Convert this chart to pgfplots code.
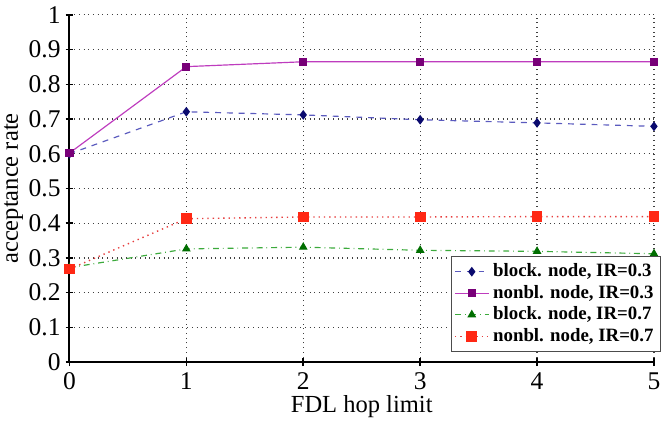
\documentclass[border=0pt]{standalone}
\usepackage{pgfplots}
\pgfplotsset{compat=1.18}
\usepackage{fontspec}
\setmainfont{Liberation Serif}
\definecolor{bline}{RGB}{90,90,190}
\definecolor{bmark}{RGB}{10,10,110}
\definecolor{pline}{RGB}{190,60,190}
\definecolor{pmark}{RGB}{120,0,120}
\definecolor{gline}{RGB}{60,170,60}
\definecolor{gmark}{RGB}{0,110,0}
\definecolor{rline}{RGB}{230,60,60}
\definecolor{rmark}{RGB}{255,40,20}
\begin{document}
\begin{tikzpicture}
\begin{axis}[
  scale only axis, width=298pt, height=177pt,
  xmin=0, xmax=5, ymin=0, ymax=1,
  xtick={0,1,2,3,4,5},
  ytick={0,0.1,0.2,0.3,0.4,0.5,0.6,0.7,0.8,0.9,1},
  yticklabels={0,0.1,0.2,0.3,0.4,0.5,0.6,0.7,0.8,0.9,1},
  axis x line=bottom, axis y line=left,
  axis line style={-, line width=1pt, black},
  tick align=center, major tick length=4pt,
  tick style={black, line width=0.8pt},
  grid=major,
  major grid style={dotted, black!75, line width=0.6pt},
  ticklabel style={font=\fontsize{13}{14}\selectfont},
  yticklabel style={xshift=1pt},
  /pgf/number format/assume math mode=true,
  xlabel={FDL hop limit}, ylabel={acceptance rate},
  label style={font=\fontsize{12.5}{13.5}\selectfont},
  xlabel style={yshift=4pt},
  ylabel style={yshift=-4pt},
  legend style={at={(1.012,0.03)}, anchor=south east, font=\bfseries\fontsize{9.6}{10.5}\selectfont,
    draw=black!70, line width=0.6pt, inner sep=1.5pt, row sep=-1.2pt},
  legend cell align=left,
]
\addplot[bline, dashed, line width=0.6pt, mark=diamond*, mark size=2pt, mark options={solid, bmark, fill=bmark}]
  coordinates {(0,0.600) (1,0.721) (2,0.712) (3,0.698) (4,0.689) (5,0.679)};
\addlegendentry{block. node, IR=0.3}
\addplot[pline, solid, line width=0.6pt, mark=square*, mark size=1.8pt, mark options={solid, pmark, fill=pmark}]
  coordinates {(0,0.602) (1,0.851) (2,0.865) (3,0.865) (4,0.865) (5,0.865)};
\addlegendentry{nonbl. node, IR=0.3}
\addplot[gline, dashdotted, line width=0.6pt, mark=triangle*, mark size=2pt, mark options={solid, gmark, fill=gmark}]
  coordinates {(0,0.272) (1,0.326) (2,0.331) (3,0.322) (4,0.319) (5,0.312)};
\addlegendentry{block. node, IR=0.7}
\addplot[rline, dotted, line width=0.7pt, mark=square*, mark size=2.4pt, mark options={solid, rmark, fill=rmark}]
  coordinates {(0,0.268) (1,0.413) (2,0.418) (3,0.418) (4,0.419) (5,0.419)};
\addlegendentry{nonbl. node, IR=0.7}
\end{axis}
\pgfresetboundingbox
\path ([xshift=-35.4pt,yshift=-30.8pt]current axis.south west) rectangle ([xshift=4.6pt,yshift=7.6pt]current axis.north east);
\end{tikzpicture}
\end{document}
